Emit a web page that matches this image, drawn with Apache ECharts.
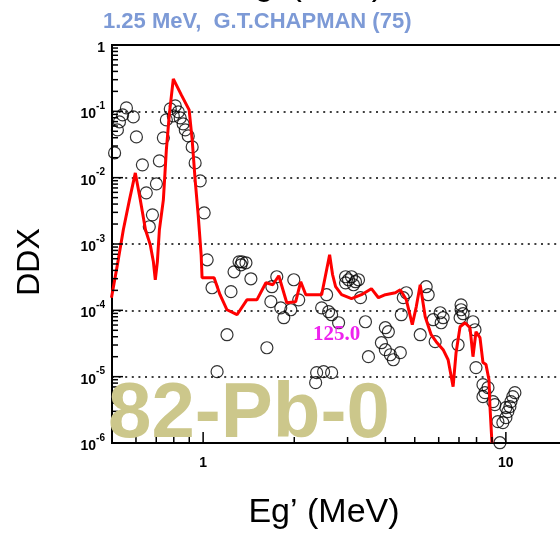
<!DOCTYPE html>
<html>
<head>
<meta charset="utf-8">
<script src="https://cdn.jsdelivr.net/npm/echarts@6/dist/echarts.min.js"></script>
<style>
  html, body { margin: 0; padding: 0; background: #ffffff; overflow: hidden; }
  #chart { width: 600px; height: 534px; }
</style>
</head>
<body>
<div id="chart"></div>
<script>
// Axis ranges (log-log)
const xRange = [0.5, 20];
const yRange = [1e-6, 1];

// Tick positions
const xDecades = [1, 10];
const xMinorTicks = [0.6, 0.7, 0.8, 0.9, 2, 3, 4, 5, 6, 7, 8, 9, 20];
const yDecades = [1e-6, 1e-5, 1e-4, 1e-3, 1e-2, 1e-1, 1];
const minorSteps = [2, 3, 4, 5, 6, 7, 8, 9];

// Calculated spectrum (red curve)
const calcE = [0.498, 0.521, 0.545, 0.571, 0.597, 0.620, 0.645, 0.669, 0.685, 0.695,
  0.706, 0.717, 0.739, 0.756, 0.773, 0.797, 0.847, 0.899, 0.920, 0.941,
  0.963, 0.985, 0.992, 1.087, 1.137, 1.199, 1.294, 1.395, 1.505, 1.612,
  1.699, 1.778, 1.889, 2.022, 2.101, 2.183, 2.463, 2.539, 2.617, 2.677,
  2.739, 2.866, 3.091, 3.334, 3.596, 3.794, 3.999, 4.314, 4.480, 4.690,
  4.908, 5.058, 5.213, 5.414, 5.666, 5.885, 6.206, 6.445, 6.694, 6.847,
  7.058, 7.330, 7.612, 7.787, 7.967, 8.213, 8.402, 8.597, 8.794, 8.861, 8.996];
const calcDDX = [1.55e-4, 4.86e-4, 1.64e-3, 4.63e-3, 1.18e-2, 4.63e-3, 1.64e-3, 9.7e-4, 5.39e-4, 2.89e-4,
  5.39e-4, 1.64e-3, 4.63e-3, 2.62e-2, 8.83e-2, 0.308, 0.177, 0.105, 3.71e-2, 9.27e-3,
  2.75e-3, 6.88e-4, 3.10e-4, 3.10e-4, 1.72e-4, 1.02e-4, 8.59e-5, 1.44e-4, 1.44e-4, 2.60e-4,
  2.43e-4, 3.32e-4, 1.30e-4, 1.35e-4, 2.70e-4, 1.72e-4, 1.72e-4, 3.44e-4, 6.88e-4, 3.44e-4,
  2.27e-4, 1.72e-4, 1.50e-4, 1.72e-4, 2.12e-4, 1.55e-4, 1.72e-4, 1.84e-4, 2.04e-4, 1.44e-4,
  6.07e-5, 1.13e-4, 2.43e-4, 8.01e-5, 4.29e-5, 3.37e-5, 2.55e-5, 1.80e-5, 7.07e-6, 2.30e-5,
  5.66e-5, 6.50e-5, 5.47e-5, 2.00e-5, 4.76e-5, 3.87e-5, 1.63e-5, 1.52e-5, 9.0e-6, 3.53e-6, 1.0e-6];

// Measured points (open circles)
const expE = [0.558, 0.542, 0.588, 0.529, 0.521, 0.602, 0.510, 0.630, 0.701, 0.649,
  0.680, 0.664, 0.717, 0.739, 0.756, 0.779, 0.809, 0.797, 0.828, 0.840,
  0.859, 0.873, 0.893, 0.920, 0.941, 0.978, 1.008, 1.031, 1.070, 1.236,
  1.265, 1.314, 1.344, 1.385, 1.334, 1.438, 1.199, 1.624, 1.112, 1.751,
  1.687, 1.674, 1.805, 1.948, 1.847, 1.993, 2.069, 2.371, 2.500, 2.657,
  2.353, 2.558, 2.463, 2.597, 2.657, 2.802, 2.954, 3.022, 3.091, 3.186,
  3.260, 2.954, 3.139, 3.309, 3.437, 3.516, 3.999, 4.091, 3.880, 3.999,
  4.154, 4.249, 4.480, 4.690, 4.583, 4.514, 5.213, 5.455, 5.539, 5.753,
  6.067, 6.206, 6.113, 5.841, 6.953, 7.112, 7.112, 7.221, 7.060, 7.787,
  7.907, 7.967, 8.402, 8.530, 8.727, 8.402, 9.064, 9.203, 9.412, 9.775,
  10.0, 10.15, 10.31, 10.39, 10.54, 10.71, 10.0, 9.556];
const expDDX = [0.1125, 0.0883, 0.0824, 0.0692, 0.0525, 0.0412, 0.0236, 0.0156, 0.00807, 0.00591,
  0.00275, 0.00182, 0.0179, 0.0398, 0.0742, 0.1087, 0.1206, 0.0853, 0.0980, 0.0796,
  0.0646, 0.0525, 0.0426, 0.0291, 0.0167, 0.00895, 0.00295, 5.78e-4, 2.19e-4, 1.91e-4,
  3.81e-4, 5.39e-4, 5.39e-4, 5.21e-4, 4.86e-4, 2.99e-4, 4.29e-5, 2.73e-5, 1.19e-5, 3.21e-4,
  2.27e-4, 1.35e-4, 1.09e-4, 1.02e-4, 7.74e-5, 2.89e-4, 1.44e-4, 1.15e-5, 1.19e-5, 1.15e-5,
  8.12e-6, 1.72e-4, 1.09e-4, 9.53e-5, 8.59e-5, 6.50e-5, 3.21e-4, 2.89e-4, 3.21e-4, 2.70e-4,
  2.89e-4, 2.60e-4, 2.43e-4, 1.55e-4, 6.73e-5, 2.00e-5, 5.47e-5, 4.76e-5, 3.25e-5, 2.55e-5,
  2.14e-5, 1.80e-5, 2.30e-5, 1.84e-4, 1.55e-4, 8.59e-5, 4.29e-5, 2.27e-4, 1.72e-4, 7.22e-5,
  9.20e-5, 7.74e-5, 6.50e-5, 3.37e-5, 3.03e-5, 1.21e-4, 1.02e-4, 8.89e-5, 7.74e-5, 6.73e-5,
  5.10e-5, 1.37e-5, 7.58e-6, 5.74e-6, 6.83e-6, 5.00e-6, 4.20e-6, 3.79e-6, 2.10e-6, 2.03e-6,
  2.41e-6, 2.97e-6, 3.53e-6, 4.20e-6, 5.00e-6, 5.74e-6, 3.41e-6, 1.01e-6];

// Texts
const subtitleText = '1.25 MeV,  G.T.CHAPMAN (75)';
const angleText = '125.0';
const targetText = '82-Pb-0';
const xTitle = 'Eg\u2019 (MeV)';
const yTitle = 'DDX';

const FONT = '"Liberation Sans", Arial, Helvetica, sans-serif';

function isDecade(v) {
  const l = Math.log10(v);
  return Math.abs(l - Math.round(l)) < 1e-6;
}

// Tick mark data: [position, anchor on the other axis, major flag]
const xTickData = xDecades.map(v => [v, yRange[0], 1])
  .concat(xMinorTicks.map(v => [v, yRange[0], 0]));
const yTickData = [];
yDecades.forEach(d => {
  yTickData.push([xRange[0], d, 1]);
  if (d < 1) minorSteps.forEach(m => yTickData.push([xRange[0], d * m, 0]));
});

const chart = echarts.init(document.getElementById('chart'), null, { renderer: 'canvas' });

const option = {
  animation: false,
  backgroundColor: '#ffffff',
  grid: {
    left: 112, top: 45, bottom: 91, right: 0,
    show: true, borderColor: '#000', borderWidth: 2, backgroundColor: 'transparent'
  },
  xAxis: {
    type: 'log', logBase: 10, min: xRange[0], max: xRange[1],
    axisLine: { show: false },
    axisTick: { show: false },
    splitLine: { show: false },
    axisLabel: {
      margin: 13,
      fontFamily: FONT, fontSize: 14, fontWeight: 'bold', color: '#000',
      formatter: v => (isDecade(v) && v >= 1 && v <= 10) ? String(Math.round(v)) : ''
    }
  },
  yAxis: {
    type: 'log', logBase: 10, min: yRange[0], max: yRange[1], splitNumber: 6,
    axisLine: { show: false },
    axisTick: { show: false },
    splitLine: { show: true, lineStyle: { color: '#000', width: 1.5, type: [2, 4.6] } },
    axisLabel: {
      margin: 7,
      lineHeight: 20,
      formatter: v => {
        if (!isDecade(v)) return '';
        const e = Math.round(Math.log10(v));
        if (e === 0) return '{b|1}';
        return '{b|10}{s|' + e + '}';
      },
      rich: {
        b: { fontFamily: FONT, fontSize: 14, fontWeight: 'bold', color: '#000', verticalAlign: 'bottom', lineHeight: 20 },
        s: { fontFamily: FONT, fontSize: 10, fontWeight: 'bold', color: '#000', verticalAlign: 'top', lineHeight: 20 }
      }
    }
  },
  series: [
    {
      // tick marks along the bottom axis
      type: 'custom',
      silent: true,
      clip: false,
      z: 5,
      data: xTickData,
      renderItem: (params, api) => {
        const p = api.coord([api.value(0), api.value(1)]);
        const len = api.value(2) ? 11 : 6;
        return {
          type: 'line',
          shape: { x1: p[0], y1: p[1], x2: p[0], y2: p[1] - len },
          style: { stroke: '#000', lineWidth: 1.5 }
        };
      }
    },
    {
      // tick marks along the left axis
      type: 'custom',
      silent: true,
      clip: false,
      z: 5,
      data: yTickData,
      renderItem: (params, api) => {
        const p = api.coord([api.value(0), api.value(1)]);
        const len = api.value(2) ? 11 : 6;
        return {
          type: 'line',
          shape: { x1: p[0], y1: p[1], x2: p[0] + len, y2: p[1] },
          style: { stroke: '#000', lineWidth: 1.5 }
        };
      }
    },
    {
      type: 'scatter',
      symbol: 'circle',
      symbolSize: 12,
      z: 3,
      itemStyle: { color: 'rgba(0,0,0,0)', borderColor: '#000', borderWidth: 1.2 },
      data: expE.map((e, i) => [e, expDDX[i]])
    },
    {
      type: 'line',
      showSymbol: false,
      z: 4,
      lineStyle: { color: '#ff0000', width: 3 },
      data: calcE.map((e, i) => [e, calcDDX[i]])
    }
  ],
  graphic: [
    {
      type: 'text', x: 232, y: -14, z: 10,
      style: { text: xTitle, font: '34px ' + FONT, fill: '#000', textAlign: 'left', textVerticalAlign: 'middle' }
    },
    {
      type: 'text', x: 103, y: 22, z: 10,
      style: { text: subtitleText, font: 'bold 22px ' + FONT, fill: '#7d9ad6', textAlign: 'left', textVerticalAlign: 'middle' }
    },
    {
      type: 'text', x: 313, y: 335, z: 10,
      style: { text: angleText, font: 'bold 21px "Liberation Serif", "Times New Roman", serif', fill: '#ee22ee', textAlign: 'left', textVerticalAlign: 'middle' }
    },
    {
      type: 'text', x: 108, y: 415, z: 20,
      style: { text: targetText, font: 'bold 78px ' + FONT, fill: '#ccc78b', textAlign: 'left', textVerticalAlign: 'middle' }
    },
    {
      type: 'text', x: 30, y: 262, rotation: Math.PI / 2, z: 10,
      style: { text: yTitle, font: '32px ' + FONT, fill: '#000', textAlign: 'center', textVerticalAlign: 'middle' }
    },
    {
      type: 'text', x: 324, y: 513, z: 10,
      style: { text: xTitle, font: '34px ' + FONT, fill: '#000', textAlign: 'center', textVerticalAlign: 'middle' }
    }
  ]
};

chart.setOption(option);
</script>
</body>
</html>
